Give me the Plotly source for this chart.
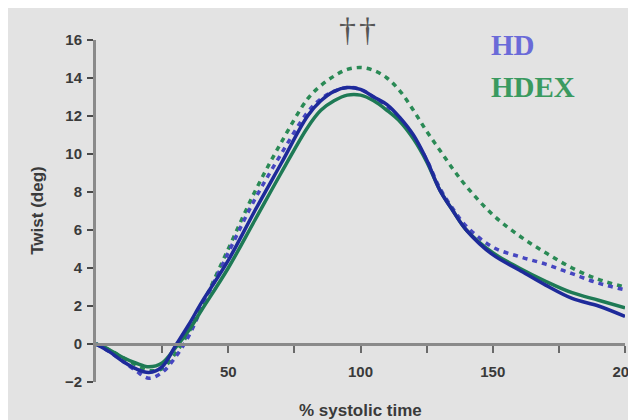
import plotly.graph_objects as go

# % systolic time
x_pts = [0, 5, 10, 15, 20, 25, 30, 35, 40, 50, 60, 70, 80, 85, 90, 95, 100, 105, 110,
         115, 120, 125, 130, 135, 140, 150, 160, 170, 180, 190, 200]

hd_solid = [0, -0.4, -0.9, -1.3, -1.5, -1.2, -0.1, 1.0, 2.2, 4.4, 7.0, 9.5, 12.0, 12.8, 13.3, 13.5,
            13.4, 13.0, 12.6, 11.9, 11.0, 9.7, 8.1, 7.0, 6.0, 4.7, 3.9, 3.1, 2.4, 2.0, 1.45]
hd_dash = [0, -0.4, -0.9, -1.4, -1.8, -1.5, -0.7, 0.4, 1.9, 4.8, 7.6, 10.0, 12.2, 12.9, 13.3, 13.5,
           13.4, 13.0, 12.5, 11.8, 10.9, 9.7, 8.2, 7.1, 6.2, 5.1, 4.6, 4.2, 3.7, 3.2, 2.85]
hdex_solid = [0, -0.3, -0.7, -1.0, -1.2, -1.0, -0.2, 0.7, 1.8, 4.0, 6.5, 9.0, 11.4, 12.3, 12.8, 13.1,
              13.1, 12.8, 12.3, 11.7, 10.8, 9.6, 8.1, 7.0, 6.0, 4.8, 4.0, 3.3, 2.7, 2.3, 1.9]
hdex_dash = [0, -0.3, -0.7, -1.1, -1.4, -1.3, -0.5, 0.6, 2.0, 5.0, 8.0, 10.6, 12.9, 13.6, 14.1, 14.45,
             14.55, 14.4, 14.0, 13.3, 12.3, 11.2, 10.2, 9.2, 8.3, 6.8, 5.7, 4.8, 4.0, 3.4, 3.0]

x_tick_vals = [25, 50, 75, 100, 125, 150, 175, 200]
x_tick_text = ["", "50", "", "100", "", "150", "", "200"]
y_tick_vals = [-2, 0, 2, 4, 6, 8, 10, 12, 14, 16]

BLUE = "#1e2a9a"
BLUE_D = "#4646c0"
GREEN = "#1e7a55"
GREEN_D = "#2a8a55"

fig = go.Figure()
fig.add_trace(go.Scatter(x=x_pts, y=hdex_dash, mode="lines", line=dict(color=GREEN_D, width=3.5, dash="5px,5px", shape="spline")))
fig.add_trace(go.Scatter(x=x_pts, y=hd_dash, mode="lines", line=dict(color=BLUE_D, width=3.5, dash="5px,5px", shape="spline")))
fig.add_trace(go.Scatter(x=x_pts, y=hdex_solid, mode="lines", line=dict(color=GREEN, width=3.5, shape="spline")))
fig.add_trace(go.Scatter(x=x_pts, y=hd_solid, mode="lines", line=dict(color=BLUE, width=3.5, shape="spline")))

tickfont = dict(family="Liberation Sans, Arial", size=15, color="#3a3a3a", weight="bold")

# page body has an 8px margin: figure placed at (8, 8)
fig.update_layout(
    width=628, height=412,
    margin=dict(l=88, r=11, t=32, b=38),
    paper_bgcolor="#e3e3e3", plot_bgcolor="#e3e3e3",
    showlegend=False,
    xaxis=dict(range=[0, 200], tickvals=x_tick_vals, ticktext=x_tick_text,
               showgrid=False, zeroline=False, showline=True, linecolor="#8a8a8a", linewidth=3,
               ticks="outside", ticklen=7, tickwidth=2, tickcolor="#6a6a6a",
               ticklabelstandoff=6, ticklabeloverflow="allow", automargin=False,
               anchor="free", position=2 / 18, tickfont=tickfont),
    yaxis=dict(range=[-2, 16], tickvals=y_tick_vals,
               showgrid=False, zeroline=False, showline=True, linecolor="#8a8a8a", linewidth=3,
               ticks="outside", ticklen=6, tickwidth=2, tickcolor="#4a4a4a", tickfont=tickfont,
               ticklabelstandoff=2, automargin=False),
)

fig.add_annotation(text="<b>% systolic time</b>", xref="paper", yref="paper", x=0.5, y=-0.082,
                   showarrow=False, xanchor="center", yanchor="middle",
                   font=dict(family="Liberation Sans", size=17, color="#3a3a3a"))
fig.add_annotation(text="<b>Twist (deg)</b>", xref="paper", yref="paper", x=-0.112, y=0.5,
                   showarrow=False, textangle=-90, xanchor="center", yanchor="middle",
                   font=dict(family="Liberation Sans", size=17, color="#3a3a3a"))
fig.add_annotation(text="<b>HD</b>", xref="paper", yref="paper", x=0.743, y=0.985,
                   showarrow=False, xanchor="left", yanchor="middle",
                   font=dict(family="Liberation Serif", size=29, color="#6a6ad8"))
fig.add_annotation(text="<b>HDEX</b>", xref="paper", yref="paper", x=0.743, y=0.862,
                   showarrow=False, xanchor="left", yanchor="middle",
                   font=dict(family="Liberation Serif", size=29, color="#3a9a60"))
for xp in [0.4745, 0.514]:
    fig.add_annotation(text="†", x=xp, y=1.03, xref="paper", yref="paper", showarrow=False,
                       xanchor="center", yanchor="middle",
                       font=dict(family="Liberation Serif", size=34, color="#555555"))

fig.write_html("out.html")
